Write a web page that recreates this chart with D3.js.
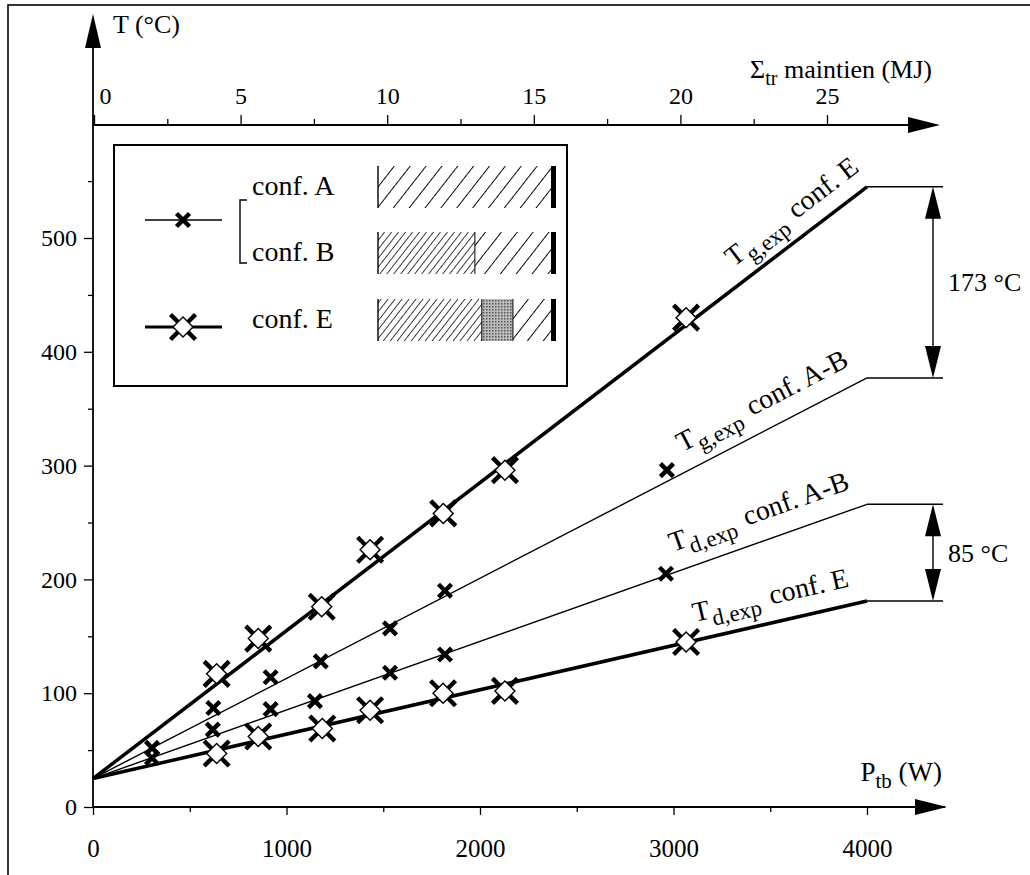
<!DOCTYPE html>
<html>
<head>
<meta charset="utf-8">
<script src="https://cdn.jsdelivr.net/npm/d3@7"></script>
<style>
  body { margin: 0; background: #fff; }
  text { font-family: "Liberation Serif", "Times New Roman", serif; fill: #000; }
</style>
</head>
<body>
<script>
// ---- data ----
var xTicksMajor = [0, 1000, 2000, 3000, 4000];
var xTicksMinor = [500, 1500, 2500, 3500];
var yTicksMajor = [0, 100, 200, 300, 400, 500];
var yTicksMinor = [50, 150, 250, 350, 450, 550];
var topTicksMajor = [0, 5, 10, 15, 20, 25];
var topTicksMinor = [2.5, 7.5, 12.5, 17.5, 22.5];

// fitted lines : T at P=0 and at P=4000
var lineKeys = ["gE", "gAB", "dAB", "dE"];
var lineT0 = [25, 25, 25, 25];
var lineTend = [545, 377, 266, 181];
var lineSub = ["g,exp", "g,exp", "d,exp", "d,exp"];
var lineConf = ["conf. E", "conf. A-B", "conf. A-B", "conf. E"];

// measured points [P (W), T (°C)]
var ptsAB_g = [[305, 52], [622, 87], [918, 114], [1177, 128], [1535, 157], [1819, 190], [2966, 296]];
var ptsAB_d = [[305, 43], [619, 68], [918, 86], [1147, 93], [1535, 118], [1819, 134], [2961, 205]];
var ptsE_g = [[639, 117], [854, 148], [1182, 176], [1432, 226], [1810, 258], [2129, 296], [3065, 430]];
var ptsE_d = [[639, 47], [854, 62], [1185, 69], [1432, 85], [1809, 100], [2129, 102], [3065, 145]];

// differences shown at the right
var gapPairs = [["gE", "gAB"], ["dAB", "dE"]];
var gapLabels = ["173 °C", "85 °C"];

// legend bars : share of each segment
var legendNames = ["conf. A", "conf. B", "conf. E"];
var legendBars = [
  [["sparse", 1]],
  [["dense", 0.56], ["sparse", 0.44]],
  [["dense", 0.60], ["gray", 0.18], ["sparse", 0.22]]
];

// ---- layout ----
var W = 1030, H = 875;
var svg = d3.select("body").append("svg").attr("width", W).attr("height", H);

var x = d3.scaleLinear().domain([0, 4000]).range([93, 867]);
var y = d3.scaleLinear().domain([0, 500]).range([807, 238]);
var xTop = d3.scaleLinear().domain([0, 25]).range([94, 827]);
var topY = 125;

var lineStyle = {gE: 3.5, gAB: 1.4, dAB: 1.4, dE: 3.5};
var labelAt = {gE: 3365, gAB: 3090, dAB: 3030, dE: 3130};
var labelOff = {gE: 17, gAB: 19, dAB: 20, dE: 18};

// frame
svg.append("rect").attr("x", 8).attr("y", 5).attr("width", W).attr("height", H)
  .attr("fill", "none").attr("stroke", "#000").attr("stroke-width", 1.6);

var defs = svg.append("defs");
function hatch(id, gap, width) {
  var p = defs.append("pattern").attr("id", id).attr("patternUnits", "userSpaceOnUse")
    .attr("width", gap).attr("height", gap).attr("patternTransform", "rotate(38)");
  p.append("line").attr("x1", 0).attr("y1", 0).attr("x2", 0).attr("y2", gap)
    .attr("stroke", "#000").attr("stroke-width", width);
}
hatch("sparse", 12.5, 1.9);
hatch("dense", 5.5, 1.5);
var gp = defs.append("pattern").attr("id", "gray").attr("patternUnits", "userSpaceOnUse")
  .attr("width", 3).attr("height", 3);
gp.append("rect").attr("width", 3).attr("height", 3).attr("fill", "#bbb");
gp.append("rect").attr("width", 1.5).attr("height", 1.5).attr("fill", "#555");

function arrowHead(g, tx, ty, dir, len, half) {
  var pts;
  if (dir == "right") pts = [[tx, ty], [tx - len, ty - half], [tx - len, ty + half]];
  if (dir == "up") pts = [[tx, ty], [tx - half, ty + len], [tx + half, ty + len]];
  if (dir == "down") pts = [[tx, ty], [tx - half, ty - len], [tx + half, ty - len]];
  g.append("polygon").attr("points", pts.map(function(p) { return p.join(","); }).join(" "))
    .attr("fill", "#000");
}

function styleAxis(g, fs) {
  g.select(".domain").remove();
  g.attr("font-family", null);
  g.selectAll("line").attr("stroke", "#000").attr("stroke-width", 1.3);
  g.selectAll("text").attr("font-size", fs).attr("fill", "#000");
}

// ---- bottom axis ----
var ax = svg.append("g");
ax.append("g").attr("transform", "translate(0," + y(0) + ")")
  .call(d3.axisBottom(x).tickValues(xTicksMinor).tickSize(5).tickFormat(""))
  .call(styleAxis, 25);
ax.append("g").attr("transform", "translate(0," + y(0) + ")")
  .call(d3.axisBottom(x).tickValues(xTicksMajor).tickSize(8).tickPadding(24).tickFormat(d3.format("d")))
  .call(styleAxis, 25);
ax.append("line").attr("x1", x(0)).attr("x2", 945).attr("y1", y(0)).attr("y2", y(0))
  .attr("stroke", "#000").attr("stroke-width", 1.8);
arrowHead(ax, 947, y(0), "right", 32, 8);
var pt = ax.append("text").attr("x", 942).attr("y", 781).attr("font-size", 27).attr("text-anchor", "end");
pt.append("tspan").text("P");
pt.append("tspan").attr("dy", 7).attr("font-size", 21).text("tb");
pt.append("tspan").attr("dy", -7).text(" (W)");

// ---- left axis ----
var ay = svg.append("g");
ay.append("g").attr("transform", "translate(" + x(0) + ",0)")
  .call(d3.axisLeft(y).tickValues(yTicksMinor).tickSize(5).tickFormat(""))
  .call(styleAxis, 24);
ay.append("g").attr("transform", "translate(" + x(0) + ",0)")
  .call(d3.axisLeft(y).tickValues(yTicksMajor).tickSize(9).tickPadding(7).tickFormat(d3.format("d")))
  .call(styleAxis, 24);
ay.append("line").attr("x1", x(0)).attr("x2", x(0)).attr("y1", y(0)).attr("y2", 40)
  .attr("stroke", "#000").attr("stroke-width", 1.8);
arrowHead(ay, x(0), 14, "up", 34, 8);
ay.append("text").attr("x", 113).attr("y", 33).attr("font-size", 26).text("T (°C)");

// ---- top axis ----
var at = svg.append("g");
at.append("g").attr("transform", "translate(0," + topY + ")")
  .call(d3.axisTop(xTop).tickValues(topTicksMinor).tickSize(6).tickFormat(""))
  .call(styleAxis, 24);
var atMaj = at.append("g").attr("transform", "translate(0," + topY + ")")
  .call(d3.axisTop(xTop).tickValues(topTicksMajor).tickSize(10).tickPadding(11).tickFormat(d3.format("d")))
  .call(styleAxis, 24);
atMaj.selectAll("text").filter(function(d) { return d === 0; }).attr("text-anchor", "start").attr("x", 5);
at.append("line").attr("x1", x(0)).attr("x2", 915).attr("y1", topY).attr("y2", topY)
  .attr("stroke", "#000").attr("stroke-width", 1.8);
arrowHead(at, 940, topY, "right", 32, 8);
var st = at.append("text").attr("x", 932).attr("y", 78).attr("font-size", 26).attr("text-anchor", "end");
st.append("tspan").text("Σ");
st.append("tspan").attr("dy", 7).attr("font-size", 20).text("tr");
st.append("tspan").attr("dy", -7).text(" maintien (MJ)");

// ---- fitted lines ----
var lineData = lineKeys.map(function(k, i) {
  return {key: k, pts: [[0, lineT0[i]], [4000, lineTend[i]]], sub: lineSub[i], conf: lineConf[i], end: lineTend[i]};
});
var lineGen = d3.line().x(function(d) { return x(d[0]); }).y(function(d) { return y(d[1]); });

svg.selectAll(".fit").data(lineData).enter().append("path")
  .attr("class", "fit")
  .attr("d", function(d) { return lineGen(d.pts); })
  .attr("fill", "none").attr("stroke", "#000")
  .attr("stroke-width", function(d) { return lineStyle[d.key]; });

// labels along the lines
lineData.forEach(function(d) {
  var p0 = d.pts[0], p1 = d.pts[1];
  var ang = Math.atan2(y(p1[1]) - y(p0[1]), x(p1[0]) - x(p0[0])) * 180 / Math.PI;
  var P = labelAt[d.key];
  var T = p0[1] + (p1[1] - p0[1]) * P / 4000;
  var g = svg.append("g").attr("transform", "translate(" + x(P) + "," + y(T) + ") rotate(" + ang + ")");
  var t = g.append("text").attr("y", -labelOff[d.key]).attr("font-size", 28);
  t.append("tspan").text("T");
  t.append("tspan").attr("dy", 8).attr("dx", 1).attr("font-size", 23).text(d.sub);
  t.append("tspan").attr("dy", -8).attr("dx", 10).text(d.conf);
});

// ---- markers ----
function crossMark(g, s) {
  g.append("path").attr("d", "M" + (-s) + "," + (-s) + "L" + s + "," + s + "M" + (-s) + "," + s + "L" + s + "," + (-s))
    .attr("stroke", "#000").attr("stroke-width", 4.4).attr("fill", "none");
}
function eMark(g) {
  crossMark(g, 12.5);
  g.append("path").attr("d", "M0,-10L10,0L0,10L-10,0Z")
    .attr("fill", "#fff").attr("stroke", "#000").attr("stroke-width", 1.4);
}

[ptsAB_g, ptsAB_d].forEach(function(arr) {
  svg.append("g").selectAll("g").data(arr).enter().append("g")
    .attr("transform", function(d) { return "translate(" + x(d[0]) + "," + y(d[1]) + ")"; })
    .each(function() { crossMark(d3.select(this), 6.5); });
});
[ptsE_g, ptsE_d].forEach(function(arr) {
  svg.append("g").selectAll("g").data(arr).enter().append("g")
    .attr("transform", function(d) { return "translate(" + x(d[0]) + "," + y(d[1]) + ")"; })
    .each(function() { eMark(d3.select(this)); });
});

// ---- differences at the right ----
var endOf = {};
lineData.forEach(function(d) { endOf[d.key] = d.end; });
var arrowX = 933;
gapPairs.forEach(function(pair, i) {
  var yt = y(endOf[pair[0]]), yb = y(endOf[pair[1]]);
  var g = svg.append("g");
  [yt, yb].forEach(function(yy) {
    g.append("line").attr("x1", x(4000)).attr("x2", 943).attr("y1", yy).attr("y2", yy)
      .attr("stroke", "#000").attr("stroke-width", 1.4);
  });
  g.append("line").attr("x1", arrowX).attr("x2", arrowX).attr("y1", yt + 20).attr("y2", yb - 20)
    .attr("stroke", "#000").attr("stroke-width", 1.4);
  arrowHead(g, arrowX, yt, "up", 32, 8);
  arrowHead(g, arrowX, yb, "down", 32, 8);
  g.append("text").attr("x", 948).attr("y", (yt + yb) / 2).attr("dy", "0.35em")
    .attr("font-size", 26).text(gapLabels[i]);
});

// ---- legend ----
var lg = svg.append("g");
lg.append("rect").attr("x", 114).attr("y", 145).attr("width", 453).attr("height", 241)
  .attr("fill", "#fff").attr("stroke", "#000").attr("stroke-width", 2);

var rowY = [187, 253, 320];
var barX = d3.scaleLinear().domain([0, 1]).range([378, 551]);
legendNames.forEach(function(name, i) {
  lg.append("text").attr("x", 252).attr("y", rowY[i]).attr("dy", "0.3em").attr("font-size", 28).text(name);
  var acc = 0;
  legendBars[i].forEach(function(seg, j) {
    lg.append("rect").attr("x", barX(acc)).attr("y", rowY[i] - 21)
      .attr("width", barX(acc + seg[1]) - barX(acc)).attr("height", 42)
      .attr("fill", "url(#" + seg[0] + ")");
    lg.append("line").attr("x1", barX(acc)).attr("x2", barX(acc))
      .attr("y1", rowY[i] - 21).attr("y2", rowY[i] + 21)
      .attr("stroke", "#000").attr("stroke-width", j == 0 ? 1.4 : 1);
    acc += seg[1];
  });
  lg.append("rect").attr("x", barX(1)).attr("y", rowY[i] - 21).attr("width", 5).attr("height", 42).attr("fill", "#000");
});

// bracket for A and B
lg.append("path").attr("d", "M247,200 L240,200 L240,263 L247,263")
  .attr("fill", "none").attr("stroke", "#000").attr("stroke-width", 1.4);

// legend symbols
var symY = [220, 327];
lg.append("line").attr("x1", 145).attr("x2", 222).attr("y1", symY[0]).attr("y2", symY[0])
  .attr("stroke", "#000").attr("stroke-width", 1.4);
crossMark(lg.append("g").attr("transform", "translate(183," + symY[0] + ")"), 6.5);
lg.append("line").attr("x1", 145).attr("x2", 222).attr("y1", symY[1]).attr("y2", symY[1])
  .attr("stroke", "#000").attr("stroke-width", 3);
eMark(lg.append("g").attr("transform", "translate(183," + symY[1] + ")"));
</script>
</body>
</html>
